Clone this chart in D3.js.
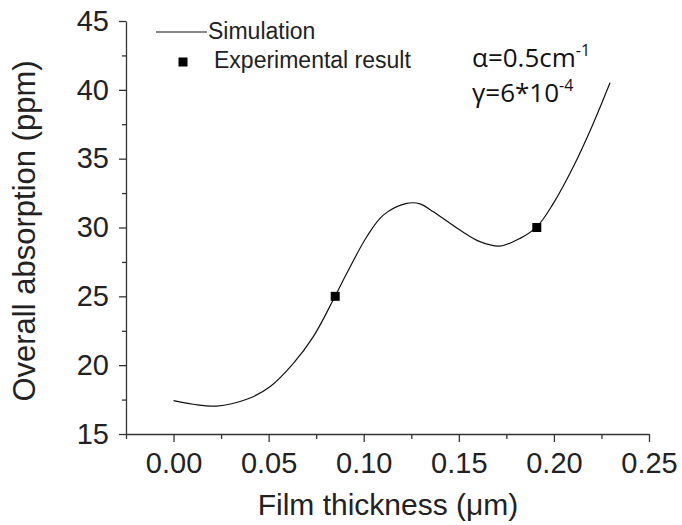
<!DOCTYPE html>
<html>
<head>
<meta charset="utf-8">
<script src="https://cdn.jsdelivr.net/npm/d3@7"></script>
<style>
  body { margin: 0; background: #fff; }
  svg { display: block; font-family: "Liberation Sans", Arial, sans-serif; }
  .axis path, .axis line { stroke: #333; stroke-width: 1.3px; }
  .axis text { fill: #222; font-size: 29px; }
</style>
</head>
<body>
<div id="chart"></div>
<script>
// Simulated curve
var simX = [0.000, 0.0104, 0.0227, 0.0385, 0.0507, 0.0630, 0.0735, 0.0848, 0.0911, 0.1016,
            0.1103, 0.1226, 0.1296, 0.1366, 0.1506, 0.1611, 0.1716, 0.1822, 0.1910, 0.1997,
            0.2102, 0.2207, 0.2295];
var simY = [17.42, 17.16, 17.03, 17.52, 18.43, 20.13, 22.07, 24.97, 26.67, 29.33,
            30.90, 31.75, 31.72, 31.14, 29.81, 28.97, 28.65, 29.21, 30.05, 31.75,
            34.41, 37.56, 40.51];

// Experimental points
var expX = [0.085, 0.191];
var expY = [25, 30];

var xTicks = [0, 0.05, 0.10, 0.15, 0.20, 0.25];
var xMinor = [-0.025, 0.025, 0.075, 0.125, 0.175, 0.225];
var yTicks = [15, 20, 25, 30, 35, 40, 45];
var yMinor = [17.5, 22.5, 27.5, 32.5, 37.5, 42.5];

var width = 682, height = 525;

var svg = d3.select("#chart")
    .append("svg")
    .attr("width", width)
    .attr("height", height);

var x = d3.scaleLinear().domain([-0.025, 0.25]).range([126, 649]);
var y = d3.scaleLinear().domain([15, 45]).range([434, 21]);

// minor ticks first, axes on top
svg.append("g")
    .attr("class", "axis")
    .attr("transform", "translate(0,434)")
    .call(d3.axisBottom(x).tickValues(xMinor).tickSize(5).tickFormat(""))
    .select(".domain").remove();

svg.append("g")
    .attr("class", "axis")
    .attr("transform", "translate(126,0)")
    .call(d3.axisLeft(y).tickValues(yMinor).tickSize(4).tickFormat(""))
    .select(".domain").remove();

svg.append("g")
    .attr("class", "axis")
    .attr("transform", "translate(0,434)")
    .call(d3.axisBottom(x).tickValues(xTicks).tickSize(8).tickSizeOuter(0).tickPadding(10)
        .tickFormat(d3.format(".2f")));

svg.append("g")
    .attr("class", "axis")
    .attr("transform", "translate(126,0)")
    .call(d3.axisLeft(y).tickValues(yTicks).tickSize(7).tickSizeOuter(0).tickPadding(10)
        .tickFormat(d3.format("d")));

// axis titles
svg.append("text")
    .attr("x", 388)
    .attr("y", 515)
    .attr("text-anchor", "middle")
    .style("font-size", "30px")
    .style("fill", "#222")
    .text("Film thickness (\u03bcm)");

svg.append("text")
    .attr("transform", "translate(35,231) rotate(-90)")
    .attr("text-anchor", "middle")
    .style("font-size", "31px")
    .style("fill", "#222")
    .text("Overall absorption (ppm)");

// simulation curve
var simData = simX.map(function(d, i) { return [d, simY[i]]; });
var line = d3.line()
    .x(function(d) { return x(d[0]); })
    .y(function(d) { return y(d[1]); })
    .curve(d3.curveCatmullRom.alpha(0.5));

svg.append("path")
    .datum(simData)
    .attr("d", line)
    .attr("fill", "none")
    .attr("stroke", "#111")
    .attr("stroke-width", 1.2);

// experimental squares
var expData = expX.map(function(d, i) { return [d, expY[i]]; });
svg.selectAll(".exp")
    .data(expData)
    .enter()
    .append("rect")
    .attr("class", "exp")
    .attr("x", function(d) { return x(d[0]) - 4.5; })
    .attr("y", function(d) { return y(d[1]) - 4.5; })
    .attr("width", 9)
    .attr("height", 9)
    .attr("fill", "#000");

// legend
var legend = svg.append("g").style("font-size", "23px").style("fill", "#222");
legend.append("line")
    .attr("x1", 156).attr("x2", 207)
    .attr("y1", 32).attr("y2", 32)
    .attr("stroke", "#111").attr("stroke-width", 1.2);
legend.append("text").attr("x", 208).attr("y", 39).text("Simulation");
legend.append("rect")
    .attr("x", 178.5).attr("y", 57.5)
    .attr("width", 9).attr("height", 9)
    .attr("fill", "#000");
legend.append("text").attr("x", 214).attr("y", 68).text("Experimental result");

// parameters note
var note = svg.append("g")
    .style("font-family", "'Open Sans', 'Liberation Sans', sans-serif")
    .style("font-size", "26px")
    .style("fill", "#111");

var t1 = note.append("text").attr("x", 472).attr("y", 67);
t1.append("tspan").text("\u03b1=0.5cm");
t1.append("tspan").attr("dy", -11).style("font-size", "16px").text("-1");

var t2 = note.append("text").attr("x", 472).attr("y", 102);
t2.append("tspan").text("\u03b3=6*10");
t2.append("tspan").attr("dy", -11).style("font-size", "16px").text("-4");
</script>
</body>
</html>
